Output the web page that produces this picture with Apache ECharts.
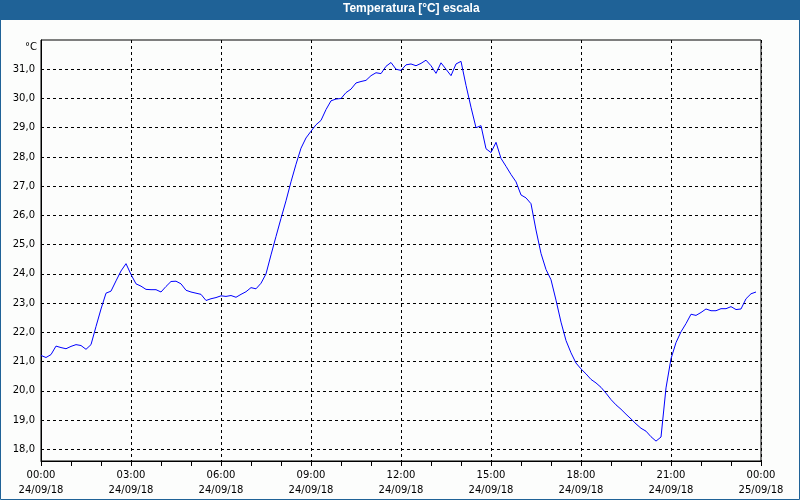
<!DOCTYPE html>
<html>
<head>
<meta charset="utf-8">
<script src="https://cdn.jsdelivr.net/npm/echarts@6/dist/echarts.min.js"></script>
<style>html,body{margin:0;padding:0;background:#fcfdfc;}#c{width:800px;height:500px;}</style>
</head>
<body>
<div id="c"></div>
<script>
// Temperature samples every 10 minutes, starting 24/09/18 00:00
const sampleMinutes = 10;
const temps = [
  21.21, 21.14, 21.24, 21.53, 21.48, 21.44, 21.52, 21.58, 21.55, 21.42,
  21.58, 22.20, 22.80, 23.34, 23.41, 23.76, 24.10, 24.35, 23.98, 23.66,
  23.58, 23.47, 23.46, 23.46, 23.38, 23.57, 23.74, 23.75, 23.66, 23.44,
  23.38, 23.34, 23.30, 23.09, 23.15, 23.19, 23.25, 23.23, 23.26, 23.20,
  23.30, 23.39, 23.53, 23.49, 23.68, 24.00, 24.65, 25.28, 25.90, 26.50,
  27.15, 27.75, 28.30, 28.65, 28.88, 29.10, 29.25, 29.62, 29.92, 29.98,
  30.00, 30.20, 30.32, 30.53, 30.58, 30.62, 30.78, 30.88, 30.85, 31.10,
  31.23, 31.00, 30.96, 31.15, 31.18, 31.12, 31.20, 31.31, 31.12, 30.86,
  31.22, 31.00, 30.78, 31.18, 31.27, 30.45, 29.70, 29.00, 29.07, 28.28,
  28.15, 28.50, 27.95, 27.68, 27.40, 27.15, 26.70, 26.60, 26.40, 25.50,
  24.70, 24.15, 23.80, 23.10, 22.35, 21.72, 21.30, 20.95, 20.75, 20.58,
  20.39, 20.27, 20.12, 19.92, 19.70, 19.52, 19.37, 19.20, 19.04, 18.87,
  18.72, 18.62, 18.43, 18.28, 18.42, 20.10, 21.10, 21.65, 22.02, 22.30,
  22.62, 22.58, 22.68, 22.80, 22.74, 22.74, 22.81, 22.81, 22.88, 22.78,
  22.80, 23.15, 23.32, 23.38
];
const timeLabels = ['00:00', '03:00', '06:00', '09:00', '12:00', '15:00', '18:00', '21:00', '00:00'];
const dateLabels = ['24/09/18', '24/09/18', '24/09/18', '24/09/18', '24/09/18', '24/09/18', '24/09/18', '24/09/18', '25/09/18'];
const yTickMin = 18, yTickMax = 31;      // labelled range of the temperature axis
const yViewMin = 17.6, yViewMax = 32.0;  // full visible range of the plot
const titleText = 'Temperatura [°C] escala';
const unitText = '°C';

const seriesData = temps.map((v, i) => [i * sampleMinutes / 60, v]);
const FONT = 'DejaVu Sans';

// plot frame in pixels
const PL = 41, PR = 761, PT = 40, PB = 461;
const pxPerDeg = (PB - PT) / (yViewMax - yViewMin);
const innerTop = PT + (yViewMax - yTickMax) * pxPerDeg;
const innerBottom = PB - (yTickMin - yViewMin) * pxPerDeg;

const chart = echarts.init(document.getElementById('c'), null, {renderer: 'canvas'});
chart.setOption({
  backgroundColor: '#fcfdfc',
  animation: false,
  title: {
    text: titleText, left: 343, top: 3, padding: 0,
    textStyle: {color: '#ffffff', fontFamily: 'Liberation Sans', fontWeight: 'bold', fontSize: 12}
  },
  graphic: [
    {type: 'rect', z: -1, shape: {x: 0, y: 0, width: 800, height: 20}, style: {fill: '#1f6297'}},
    {type: 'rect', z: 100, shape: {x: 0.5, y: 0.5, width: 799, height: 499}, style: {fill: null, stroke: '#1f6297', lineWidth: 1}},
    {type: 'text', left: 25, top: 42, style: {text: unitText, font: '10px "DejaVu Sans"', fill: '#000'}}
  ],
  grid: [
    {left: PL, right: 800 - PR, top: PT, bottom: 500 - PB, show: true, borderColor: '#000', borderWidth: 1, backgroundColor: 'transparent'},
    {left: PL, right: 800 - PR, top: innerTop, bottom: 500 - innerBottom, show: false}
  ],
  xAxis: [{
    gridIndex: 0, type: 'value', min: 0, max: 24, interval: 3,
    axisLine: {show: true, lineStyle: {color: '#000', width: 1}},
    axisTick: {show: true, length: 5, lineStyle: {color: '#000'}},
    minorTick: {show: true, splitNumber: 3, length: 5, lineStyle: {color: '#000'}},
    splitLine: {show: true, lineStyle: {color: '#000', type: [3, 3], width: 1}},
    axisLabel: {
      margin: 7, color: '#000', fontFamily: FONT, fontSize: 10, lineHeight: 15,
      formatter: (v) => { const i = Math.round(v / 3); return timeLabels[i] + '\n' + dateLabels[i]; }
    }
  }, {
    gridIndex: 1, type: 'value', min: 0, max: 24, show: false
  }],
  yAxis: [{
    gridIndex: 0, type: 'value', min: yViewMin, max: yViewMax,
    axisLine: {show: true, lineStyle: {color: '#000', width: 1}},
    axisTick: {show: false}, axisLabel: {show: false}, splitLine: {show: false}
  }, {
    gridIndex: 1, type: 'value', min: yTickMin, max: yTickMax, interval: 1,
    axisLine: {show: false},
    axisTick: {show: false},
    splitLine: {show: true, lineStyle: {color: '#000', type: [3, 3], width: 1}},
    axisLabel: {
      margin: 6, color: '#000', fontFamily: FONT, fontSize: 10,
      formatter: (v) => v.toFixed(1).replace('.', ',')
    }
  }],
  series: [{
    type: 'line', xAxisIndex: 0, yAxisIndex: 0, data: seriesData, showSymbol: false, symbol: 'none',
    lineStyle: {color: '#0000ff', width: 1}, z: 5
  }]
});
</script>
</body>
</html>
